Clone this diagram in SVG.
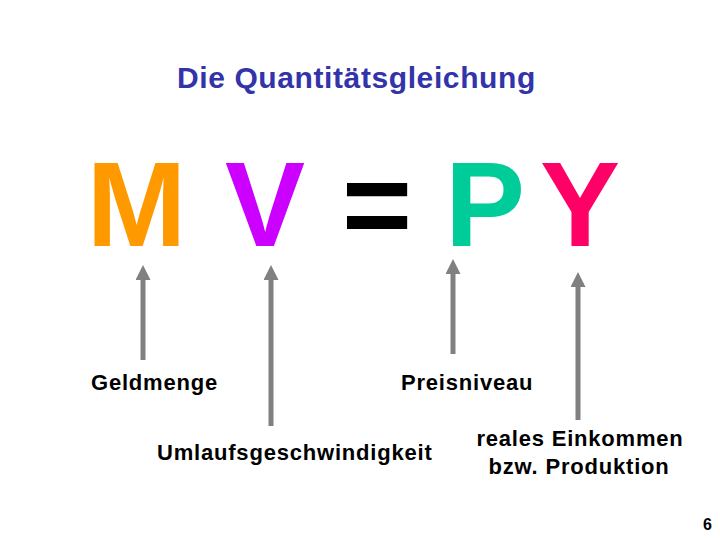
<svg xmlns="http://www.w3.org/2000/svg" width="720" height="540" viewBox="0 0 720 540">
<defs>
<style>
.big{font-family:"Liberation Sans",Arial,sans-serif;font-weight:bold;font-size:120px;text-anchor:middle}
.lbl{font-family:"Liberation Sans",Arial,sans-serif;font-weight:bold;font-size:22px;fill:#000;letter-spacing:0.8px}
.arr{stroke:#808080;stroke-width:5;fill:none;marker-end:url(#ah)}
</style>
<marker id="ah" markerWidth="3" markerHeight="3" refX="1" refY="1.5" orient="auto" markerUnits="strokeWidth" viewBox="0 0 3 3">
<path d="M0,0 L3,1.5 L0,3 z" fill="#808080"/>
</marker>
</defs>
<rect width="720" height="540" fill="#fff"/>
<g id="title"><text x="177" y="88" font-family="Liberation Sans,Arial,sans-serif" font-size="30" font-weight="bold" letter-spacing="0.6" fill="#3333AA">Die Quantitätsgleichung</text></g>
<g id="M"><text class="big" x="136.5" y="246" fill="#FF9900">M</text></g>
<g id="V"><text class="big" x="265" y="246" fill="#CC00FF">V</text></g>
<g id="eq"><text class="big" x="377" y="246" fill="#000">=</text></g>
<g id="P"><text class="big" x="485" y="246" fill="#00CC99">P</text></g>
<g id="Y"><text class="big" x="580" y="246" fill="#FF0066">Y</text></g>
<g id="connectors">
<line class="arr" x1="143" y1="360" x2="143" y2="275"/>
<line class="arr" x1="271" y1="426" x2="271" y2="275"/>
<line class="arr" x1="453" y1="354" x2="453" y2="269"/>
<line class="arr" x1="578" y1="420" x2="578" y2="282"/>
</g>
<g id="geldmenge"><text class="lbl" x="91" y="390">Geldmenge</text></g>
<g id="preisniveau"><text class="lbl" x="401" y="390">Preisniveau</text></g>
<g id="umlauf"><text class="lbl" x="157" y="460">Umlaufsgeschwindigkeit</text></g>
<g id="einkommen"><text class="lbl" x="580" y="446" text-anchor="middle">reales Einkommen</text><text class="lbl" x="579" y="474" text-anchor="middle">bzw. Produktion</text></g>
<g id="page"><text x="712" y="530" font-family="Liberation Sans,Arial,sans-serif" font-size="16" font-weight="bold" text-anchor="end">6</text></g>
</svg>
